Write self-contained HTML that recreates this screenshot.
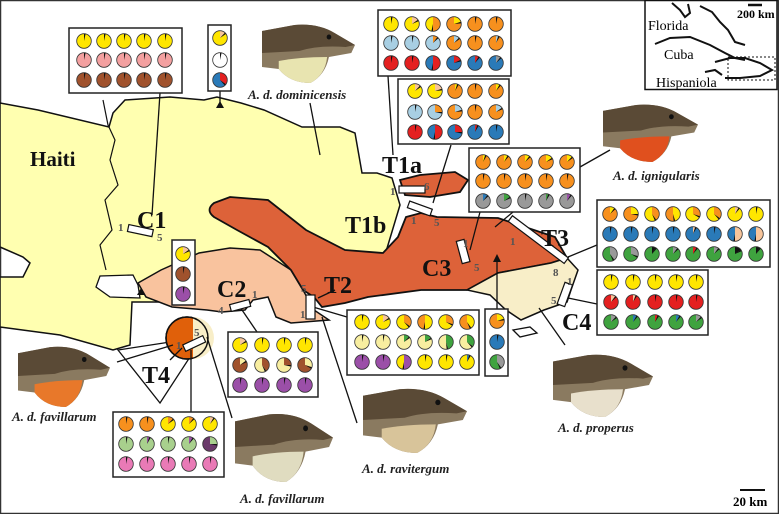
<!DOCTYPE html>
<html><head><meta charset="utf-8"><style>
html,body{margin:0;padding:0;background:#fff}
svg{display:block}
text{font-family:"Liberation Serif",serif}
.lb{font-weight:bold;font-size:24px;fill:#111}
.sp{font-style:italic;font-weight:bold;font-size:13px;fill:#222}
.n{font-size:11px;fill:#555;font-weight:bold}
</style></head><body>
<svg id="s" width="779" height="514" viewBox="0 0 779 514" xmlns="http://www.w3.org/2000/svg">
<rect x="0.5" y="0.5" width="778" height="513" fill="#fff" stroke="#333" stroke-width="1.5"/>
<!-- yellow -->
<path d="M0,103 L38,110 L109,127 L113,113 L125,100 L170,97 L204,100 L217,97 L241,103 L264,110 L302,127 L340,127 L355,133 L362,173 L377,173 L392,178 L400,205 L385,255 L300,292 L200,302 L150,302 L132,302 L130,345 L113,350 L60,335 L0,327 L0,277 L23,277 L30,263 L23,257 L0,247 Z" fill="#ffffb0" stroke="#111" stroke-width="1.5"/>
<path d="M138,285 L133,275 L100,276 L96,287 L110,297 L140,298 Z" fill="#fff" stroke="#111" stroke-width="1.3"/>
<path d="M103,100 L108,125 L115,140 L110,160 L118,185 L105,200 L112,230 L100,245 L106,270" fill="none" stroke="#111" stroke-width="1.2"/>
<!-- salmon -->
<path d="M138,283 L161,270 L199,253 L230,248 L260,250 L291,270 L303,290 L314,310 L329,320 L291,323 L276,317 L268,297 L253,300 L245,310 L222,312 L207,310 L172,307 L146,297 Z" fill="#f9c39e" stroke="#111" stroke-width="1.5"/>
<!-- orange -->
<path d="M214,203 L230,197 L268,200 L306,230 L345,250 L383,253 L398,237 L406,217 L421,213 L437,217 L498,218 L555,237 L567,258 L551,263 L498,273 L467,290 L421,290 L368,297 L345,303 L322,307 L314,297 L303,290 L291,270 L268,247 L237,230 L214,217 Q205,210 214,203 Z" fill="#dd6239" stroke="#111" stroke-width="1.8"/>
<path d="M400,180 L420,175 L455,172 L468,180 L460,192 L430,197 L405,195 Z" fill="#dd6239" stroke="#111" stroke-width="1.8"/>
<!-- cream -->
<path d="M467,290 L498,273 L551,263 L567,258 L578,270 L571,290 L567,302 L544,310 L521,320 L506,310 L490,295 Z" fill="#f8eec8" stroke="#111" stroke-width="1.5"/>
<path d="M513,330 L530,327 L537,333 L520,337 Z" fill="#fff" stroke="#111" stroke-width="1.3"/>
<!-- T4 -->
<path d="M118,350 L203,337 L160,403 Z" fill="#fff" stroke="#111" stroke-width="1.3"/>
<circle cx="187" cy="338" r="21" fill="#e0600a" stroke="#111" stroke-width="1.5"/>
<path d="M193,317 A21,21 0 0 1 193,359 Z" fill="#f8eec8"/>
<circle cx="187" cy="338" r="21" fill="none" stroke="#111" stroke-width="1.5"/>
<!-- lines -->
<g stroke="#111" stroke-width="1.3" fill="none">
<line x1="160" y1="93" x2="152" y2="215"/>
<line x1="220" y1="91" x2="220" y2="103"/>
<line x1="310" y1="103" x2="320" y2="155"/>
<line x1="388" y1="76" x2="393" y2="155"/>
<line x1="451" y1="145" x2="433" y2="203"/>
<line x1="480" y1="212" x2="470" y2="250"/>
<line x1="513" y1="212" x2="495" y2="227"/>
<line x1="580" y1="167" x2="610" y2="150"/>
<line x1="568" y1="257" x2="597" y2="245"/>
<line x1="497" y1="309" x2="497" y2="262"/>
<line x1="568" y1="298" x2="597" y2="304"/>
<line x1="539" y1="308" x2="565" y2="345"/>
<line x1="347" y1="317" x2="313" y2="307"/>
<line x1="322" y1="317" x2="357" y2="423"/>
<line x1="318" y1="298" x2="335" y2="290"/>
<line x1="257" y1="332" x2="240" y2="307"/>
<line x1="117" y1="362" x2="173" y2="345"/>
<line x1="170" y1="360" x2="182" y2="348"/>
<line x1="191" y1="350" x2="191" y2="412"/>
<line x1="207" y1="337" x2="232" y2="418"/>
<line x1="412" y1="330" x2="413" y2="330"/>
</g>
<g fill="#111"><path d="M216,108 L224,108 L220,101Z"/><path d="M493,262 L501,262 L497,254Z"/><path d="M137,295 L145,295 L141,288Z"/></g>
<!-- transect bars -->
<g fill="#fff" stroke="#111" stroke-width="1.2">
<rect x="128" y="227" width="25" height="7" transform="rotate(12 140 230)"/>
<rect x="399" y="186" width="26" height="7"/>
<rect x="408" y="205" width="24" height="7" transform="rotate(20 420 208)"/>
<rect x="459" y="240" width="8" height="23" transform="rotate(-15 463 251)"/>
<rect x="503" y="236" width="70" height="7" transform="rotate(37 538 240)"/>
<rect x="561" y="283" width="8" height="23" transform="rotate(20 565 294)"/>
<rect x="306" y="295" width="9" height="24"/>
<rect x="230" y="302" width="20" height="7" transform="rotate(-15 240 305)"/>
<rect x="183" y="340" width="22" height="7" transform="rotate(-25 194 343)"/>
</g>
<g class="n">
<text x="118" y="231">1</text><text x="157" y="241">5</text>
<text x="390" y="195">1</text><text x="424" y="190">6</text>
<text x="411" y="224">1</text><text x="434" y="226">5</text>
<text x="463" y="247">1</text><text x="474" y="271">5</text>
<text x="510" y="245">1</text><text x="553" y="276">8</text>
<text x="567" y="285">1</text><text x="551" y="304">5</text>
<text x="301" y="292">5</text><text x="300" y="318">1</text>
<text x="218" y="314">4</text><text x="252" y="298">1</text>
<text x="176" y="349">1</text><text x="194" y="336">5</text>
</g>
<!-- labels -->
<text class="lb" x="30" y="166" style="font-size:21px">Haiti</text>
<text class="lb" x="137" y="228">C1</text>
<text class="lb" x="382" y="173">T1a</text>
<text class="lb" x="345" y="233">T1b</text>
<text class="lb" x="422" y="276">C3</text>
<text class="lb" x="541" y="246">T3</text>
<text class="lb" x="562" y="330">C4</text>
<text class="lb" x="324" y="293">T2</text>
<text class="lb" x="217" y="297">C2</text>
<text class="lb" x="142" y="383">T4</text>
<text class="sp" x="248" y="99">A. d. dominicensis</text>
<text class="sp" x="613" y="180">A. d. ignigularis</text>
<text class="sp" x="12" y="421">A. d. favillarum</text>
<text class="sp" x="240" y="503">A. d. favillarum</text>
<text class="sp" x="362" y="473">A. d. ravitergum</text>
<text class="sp" x="558" y="432">A. d. properus</text>
<line x1="740" y1="490" x2="765" y2="490" stroke="#111" stroke-width="2"/>
<text x="733" y="506" style="font-size:13px;font-weight:bold">20 km</text>
<!-- inset -->
<rect x="645" y="0.5" width="132" height="89" fill="#fff" stroke="#111" stroke-width="1.5"/>
<g fill="none" stroke="#111" stroke-width="2">
<path d="M672,3 L680,10 L685,17 L690,13 L688,4"/>
<path d="M655,44 L670,38 L690,37 L710,45 L725,53 L735,58 L745,60"/>
<path d="M700,6 L712,12 L720,22 L728,30 L735,42 L745,45"/>
<path d="M715,62 L730,58 L745,58 L760,63 L772,70 L760,76 L740,78 L725,78" />
<path d="M705,72 L715,70 L722,75"/>
</g>
<rect x="728" y="57" width="47" height="23" fill="none" stroke="#111" stroke-dasharray="2,2"/>
<line x1="748" y1="5" x2="762" y2="5" stroke="#111" stroke-width="2.5"/>
<text x="737" y="18" style="font-size:12px;font-weight:bold">200 km</text>
<text x="648" y="30" style="font-size:14px">Florida</text>
<text x="664" y="59" style="font-size:14px">Cuba</text>
<text x="656" y="87" style="font-size:14px">Hispaniola</text>
<g id="pies"></g>
<g id="liz"></g>
</svg>
<script>
const C={Y:"#ffe600",O:"#f7901e",P:"#f3a0a0",B:"#a0522d",W:"#fff",U:"#2a7ab8",R:"#e42020",L:"#a8cfe3",K:"#111",E:"#f7c49a",G:"#3fa33f",A:"#999",V:"#f8eea0",M:"#9b4fa8",N:"#a8d08d",D:"#6b3a6b",I:"#e97ab6"};
const ns="http://www.w3.org/2000/svg";const g=document.getElementById("pies");const s=document.getElementById("s");
function el(t,a,p){const e=document.createElementNS(ns,t);for(const k in a)e.setAttribute(k,a[k]);(p||g).appendChild(e);return e;}
function pie(cx,cy,spec,r){r=r||7.3;const parts=spec.split(".");const main=C[parts[0][0]];
el("circle",{cx,cy,r,fill:main});let a=0;
const w=[];if(parts[1])w.push([C[parts[1][0]],+parts[1].slice(1)/100]);w.push([C.K,0.035]);
for(const [c,f] of w){const a0=a*2*Math.PI,a1=(a+f)*2*Math.PI;const x0=cx+r*Math.sin(a0),y0=cy-r*Math.cos(a0),x1=cx+r*Math.sin(a1),y1=cy-r*Math.cos(a1);
el("path",{d:`M${cx},${cy}L${x0},${y0}A${r},${r} 0 ${f>0.5?1:0} 1 ${x1},${y1}Z`,fill:c});a+=f;}
el("circle",{cx,cy,r,fill:"none",stroke:"#333","stroke-width":0.8});}
function box(x,y,w,h,xs,ys,rows){el("rect",{x,y,width:w,height:h,fill:"#fff",stroke:"#222","stroke-width":1.5});
rows.forEach((row,j)=>row.split(" ").forEach((sp,i)=>pie(xs[i],ys[j],sp)));}
box(69,28,113,65,[84,104,124,144,165],[41,60,80],["Y Y Y Y Y","P P P P P","B B B B B"]);
box(208,25,23,66,[220],[38,60,80],["Y.E12","W","U.R35"]);
box(378,10,133,66,[391,412,433,454,475,496],[24,43,63],["Y Y.E15 Y.O50 O.Y20 O O","L L L.O10 O.L12 O O.L05","R R U.R50 U.R18 U.R08 U.A10"]);
box(398,79,111,65,[415,435,455,475,496],[91,112,132],["Y.E12 Y.E20 O.Y05 O O.Y08","L L.O25 O.L20 O O.L15","R U.R50 U.R25 U.R05 U"]);
box(469,148,111,64,[483,504,525,546,567],[162,181,201],["O.Y05 O.Y08 O.Y10 O.Y15 O.Y12","O O O O O","A.U10 A.G15 A A.G05 A.M08"]);
box(597,200,173,67,[610,631,652,673,693,714,735,756],[214,234,254],["O.Y10 O.Y25 Y.O40 O.Y45 Y.O30 Y.O35 Y.E08 Y","U U U U U.E05 U U.E50 U.E50","G.A40 G.A30 G.K08 G.A10 G.R08 G.A10 G.K15 G.K08"]);
box(597,270,111,65,[611,633,655,676,696],[282,302,322],["Y Y Y Y Y","R.E10 R.E06 R R R","G.A12 G.U08 G.R06 G.U08 G.A12"]);
box(347,310,132,65,[362,383,404,425,446,467],[322,342,362],["Y Y.E15 Y.O35 O.Y50 Y.O30 O.Y40","V V V.G12 V.G15 V.G45 V.G35","M M Y.M50 Y Y Y.U05"]);
box(485,309,23,67,[497],[321,342,362],["O.Y20","U","G.A40"]);
box(228,332,90,65,[240,262,284,305],[345,365,385],["Y.E15 Y Y Y","B.V15 V.B40 V.B25 B.V30","M M M M"]);
box(113,412,111,65,[126,147,168,189,210],[424,444,464],["O O Y.O12 Y.O10 Y.E08","N N.M05 N N.M08 D.N25","I I I I I"]);
box(172,240,23,65,[183],[254,274,294],["Y.E15","B","M"]);
// lizards
const L=document.getElementById("liz");
function liz(x,y,w,h,dew){const t=el("g",{transform:`translate(${x},${y}) scale(${w/100},${h/60})`},L);
el("path",{d:"M0,8 L35,2 Q60,0 78,10 L100,22 L96,30 L72,34 Q68,52 52,60 Q30,60 18,46 L0,44 Z",fill:"#8a7a60"},t);
el("path",{d:"M0,8 L35,2 Q60,0 78,10 L100,22 L90,24 Q60,22 40,28 L0,30 Z",fill:"#5a4a36"},t);
el("path",{d:"M18,38 Q40,34 70,34 Q68,52 52,60 Q30,60 18,46 Z",fill:dew},t);
el("circle",{cx:72,cy:14,r:2.5,fill:"#111"},t);}
liz(262,23,93,60,"#e8e4b0");
liz(603,103,95,59,"#e0501e");
liz(18,345,92,62,"#e8782a");
liz(235,412,98,70,"#e0dcc0");
liz(363,387,104,66,"#d8c49a");
liz(553,353,100,64,"#e8e0cc");
</script>
</body></html>
